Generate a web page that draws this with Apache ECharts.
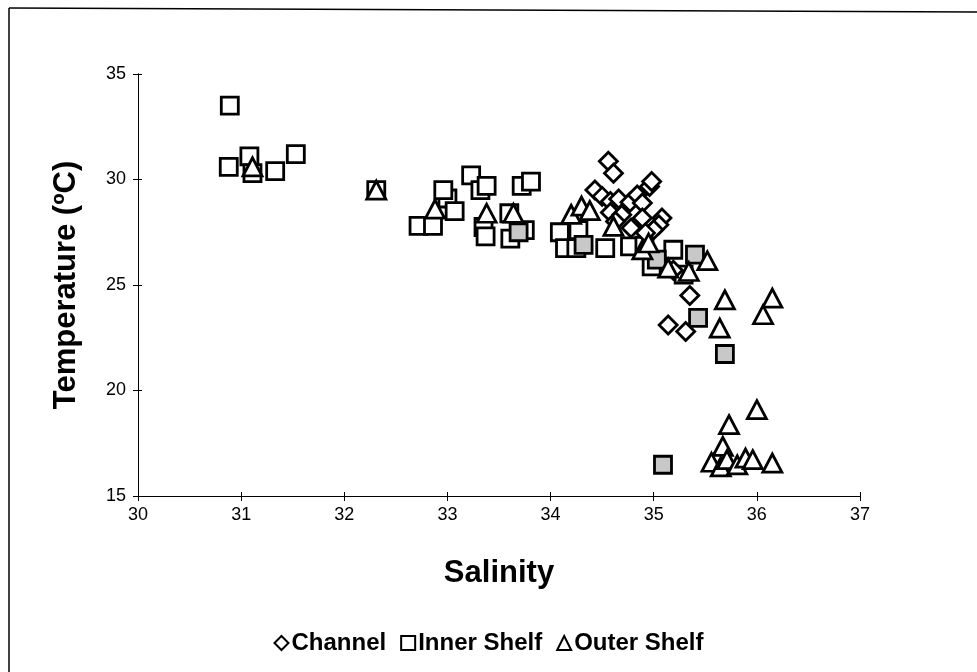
<!DOCTYPE html>
<html>
<head>
<meta charset="utf-8">
<script src="https://cdn.jsdelivr.net/npm/echarts@6/dist/echarts.min.js"></script>
<style>
html,body{margin:0;padding:0;background:#fff;}
#chart{width:977px;height:672px;}
</style>
</head>
<body>
<div id="chart"></div>
<script>
// ---- data ----
var seriesNames = ['Channel', 'Inner Shelf', 'Outer Shelf'];
var xTicks = [30, 31, 32, 33, 34, 35, 36, 37];
var yTicks = [15, 20, 25, 30, 35];

var channel = [
  [34.56,30.86],[34.61,30.3],[34.43,29.5],[34.5,29.2],[34.58,28.96],[34.66,29.08],
  [34.77,28.92],[34.84,29.27],[34.89,28.89],[34.58,28.44],[34.69,28.33],[34.63,28.01],
  [34.89,28.18],[34.96,29.67],[34.98,29.91],[35.08,28.18],[35.05,27.86],[35.0,27.62],
  [34.92,27.47],[34.78,27.7],[35.19,25.7],[35.35,24.5],[35.14,23.1],[35.31,22.8],[35.64,16.85]
];
var innerShelf = [
  [30.89,33.5],[30.88,30.6],[31.08,31.1],[31.11,30.3],[31.33,30.4],[31.53,31.2],[32.31,29.5],
  [32.72,27.8],[32.86,27.8],[33.0,29.1],[32.96,29.5],[33.07,28.5],[33.23,30.2],[33.32,29.5],
  [33.38,29.7],[33.35,27.75],[33.37,27.3],[33.6,28.4],[33.61,27.2],[33.75,27.6],[33.72,29.7],
  [33.81,29.9],[34.09,27.5],[34.14,26.75],[34.27,27.6],[34.25,26.75],[34.53,26.75],[34.77,26.83],
  [34.91,26.86],[34.98,25.88],[35.19,26.67],[35.29,25.49]
];
var innerShelfShaded = [
  [33.69,27.5],[34.32,26.9],[35.03,26.2],[35.4,26.44],[35.43,23.44],[35.69,21.73],[35.09,16.48]
];
var outerShelf = [
  [31.11,30.6],[32.31,29.5],[32.88,28.6],[33.38,28.4],[33.64,28.4],[34.2,28.35],[34.3,28.74],
  [34.38,28.53],[34.61,27.78],[34.89,26.67],[34.95,26.99],[35.14,25.8],[35.34,25.64],[35.52,26.15],
  [35.69,24.3],[36.15,24.38],[36.06,23.59],[35.64,22.96],[36.0,19.09],[35.73,18.38],[35.67,17.35],
  [35.56,16.6],[35.65,16.38],[35.71,16.72],[35.81,16.48],[35.89,16.8],[35.96,16.72],[36.15,16.56]
];

// ---- chart ----
var chart = echarts.init(document.getElementById('chart'), null, {renderer: 'canvas'});
var FONT = 'Liberation Sans, Arial, sans-serif';
var gridBox = {left: 138, right: 117, top: 74, bottom: 176};

function baseAxis(extra) {
  return Object.assign({
    type: 'value',
    splitLine: {show: false},
    axisLine: {show: true, onZero: false, lineStyle: {color: '#000', width: 1}},
    axisTick: {show: true, length: 5, lineStyle: {color: '#000', width: 1}},
    axisLabel: {color: '#000', fontSize: 18, fontFamily: FONT},
    nameTextStyle: {color: '#000', fontSize: 31, fontWeight: 'bold', fontFamily: FONT}
  }, extra);
}

var innerData = innerShelf.map(function (p) { return {value: p}; })
  .concat(innerShelfShaded.map(function (p) {
    return {value: p, itemStyle: {color: '#c8c8c8'}};
  }));

var markerStyle = {color: '#fff', borderColor: '#000', borderWidth: 2.8, opacity: 1};

chart.setOption({
  backgroundColor: '#fff',
  animation: false,
  grid: [
    Object.assign({}, gridBox),
    Object.assign({}, gridBox)
  ],
  xAxis: [
    baseAxis({
      gridIndex: 0, min: xTicks[0], max: xTicks[xTicks.length - 1], interval: 1,
      name: 'Salinity', nameLocation: 'middle', nameGap: 62,
      axisLabel: {color: '#000', fontSize: 18, fontFamily: FONT, margin: 10}
    }),
    baseAxis({
      gridIndex: 1, min: xTicks[0], max: xTicks[xTicks.length - 1], interval: 1,
      axisLine: {show: true, onZero: false, lineStyle: {color: '#000', width: 1}},
      axisTick: {show: true, inside: true, length: 4, lineStyle: {color: '#000', width: 1}},
      axisLabel: {show: false}
    })
  ],
  yAxis: [
    baseAxis({
      gridIndex: 0, min: yTicks[0], max: yTicks[yTicks.length - 1], interval: 5,
      name: 'Temperature (ºC)', nameLocation: 'middle', nameGap: 56,
      axisLabel: {color: '#000', fontSize: 18, fontFamily: FONT, margin: 12}
    }),
    baseAxis({
      gridIndex: 1, min: yTicks[0], max: yTicks[yTicks.length - 1], interval: 5,
      axisLine: {show: true, onZero: false, lineStyle: {color: '#000', width: 1}},
      axisTick: {show: true, inside: true, length: 4, lineStyle: {color: '#000', width: 1}},
      axisLabel: {show: false}
    })
  ],
  legend: {
    data: seriesNames,
    bottom: 12,
    left: 'center',
    itemWidth: 14,
    itemHeight: 14,
    itemGap: 14,
    textStyle: {color: '#000', fontSize: 24, fontWeight: 'bold', fontFamily: FONT, padding: [0, 0, 0, -2]}
  },
  graphic: [
    {type: 'line', shape: {x1: 9, y1: 8, x2: 977, y2: 12}, style: {stroke: '#000', lineWidth: 1.5}},
    {type: 'line', shape: {x1: 9, y1: 8, x2: 9, y2: 672}, style: {stroke: '#000', lineWidth: 1.5}}
  ],
  series: [
    {
      name: seriesNames[0], type: 'scatter', xAxisIndex: 0, yAxisIndex: 0,
      symbol: 'diamond', symbolSize: 18,
      itemStyle: markerStyle,
      data: channel, z: 3
    },
    {
      name: seriesNames[1], type: 'scatter', xAxisIndex: 0, yAxisIndex: 0,
      symbol: 'rect', symbolSize: 17,
      itemStyle: markerStyle,
      data: innerData, z: 2
    },
    {
      name: seriesNames[2], type: 'scatter', xAxisIndex: 0, yAxisIndex: 0,
      symbol: 'triangle', symbolSize: [19, 18],
      itemStyle: markerStyle,
      data: outerShelf, z: 4
    },
    {
      name: 'tickHelper', type: 'scatter', xAxisIndex: 1, yAxisIndex: 1,
      symbolSize: 0, silent: true, data: [[xTicks[0], yTicks[0]]]
    }
  ]
});
</script>
</body>
</html>
